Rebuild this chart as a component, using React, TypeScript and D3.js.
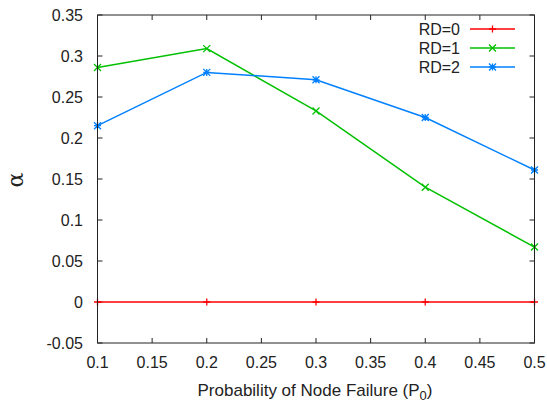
import React from "react";
import * as d3 from "d3";

const xValues = [0.1, 0.2, 0.3, 0.4, 0.5];
const rd0 = [0, 0, 0, 0, 0];
const rd1 = [0.286, 0.309, 0.233, 0.14, 0.067];
const rd2 = [0.215, 0.28, 0.271, 0.225, 0.161];
const seriesNames = ["RD=0", "RD=1", "RD=2"];
const seriesColors = ["#ff0000", "#00c000", "#0080ff"];
const xTicks = [0.1, 0.15, 0.2, 0.25, 0.3, 0.35, 0.4, 0.45, 0.5];
const yTicks = [-0.05, 0, 0.05, 0.1, 0.15, 0.2, 0.25, 0.3, 0.35];

const W = 547, H = 403;
const L = 97.5, R = 534.5, T = 15, B = 343;

function Marker({ type, x, y, color }: { type: number; x: number; y: number; color: string }) {
  const s = 3.5;
  if (type === 0) {
    return <path d={`M${x - s},${y}H${x + s}M${x},${y - s}V${y + s}`} stroke={color} strokeWidth={1.3} />;
  }
  if (type === 1) {
    return <path d={`M${x - s},${y - s}L${x + s},${y + s}M${x - s},${y + s}L${x + s},${y - s}`} stroke={color} strokeWidth={1.3} />;
  }
  return (
    <path
      d={`M${x - s},${y}H${x + s}M${x},${y - s}V${y + s}M${x - s},${y - s}L${x + s},${y + s}M${x - s},${y + s}L${x + s},${y - s}`}
      stroke={color}
      strokeWidth={1.3}
    />
  );
}

export default function App() {
  const x = d3.scaleLinear().domain([0.1, 0.5]).range([L, R]);
  const y = d3.scaleLinear().domain([-0.05, 0.35]).range([B, T]);
  const data = [rd0, rd1, rd2];
  const line = d3
    .line<number>()
    .x((_, i) => x(xValues[i]))
    .y((d) => y(d));
  const font = "'Liberation Sans', Arial, sans-serif";
  const fmt = (v: number) => (Math.abs(v) < 1e-9 ? "0" : String(+v.toFixed(2)));
  const legendY = [29, 48, 67];
  return (
    <svg width={W} height={H} style={{ position: "absolute", left: 0, top: 0, background: "#fff" }} fontFamily={font}>
      <rect width={W} height={H} fill="#fff" />
      {xTicks.map((t) => (
        <g key={"x" + t}>
          <line x1={x(t)} x2={x(t)} y1={B} y2={B - 5} stroke="#222" />
          <line x1={x(t)} x2={x(t)} y1={T} y2={T + 5} stroke="#222" />
          <text x={x(t)} y={368} fontSize={16} textAnchor="middle" fill="#222">
            {fmt(t)}
          </text>
        </g>
      ))}
      {yTicks.map((t) => (
        <g key={"y" + t}>
          <line x1={L} x2={L + 5} y1={y(t)} y2={y(t)} stroke="#222" />
          <line x1={R} x2={R - 5} y1={y(t)} y2={y(t)} stroke="#222" />
          <text x={83} y={y(t) + 5.5} fontSize={16} textAnchor="end" fill="#222">
            {fmt(t)}
          </text>
        </g>
      ))}
      {data.map((d, si) => (
        <g key={si}>
          <path d={line(d) || ""} fill="none" stroke={seriesColors[si]} strokeWidth={1.5} />
          {d.map((v, i) => (
            <Marker key={i} type={si} x={x(xValues[i])} y={y(v)} color={seriesColors[si]} />
          ))}
        </g>
      ))}
      {seriesNames.map((n, si) => (
        <g key={n}>
          <text x={460} y={legendY[si] + 5.5} fontSize={16} textAnchor="end" fill="#222">
            {n}
          </text>
          <line x1={470} x2={515} y1={legendY[si]} y2={legendY[si]} stroke={seriesColors[si]} strokeWidth={1.5} />
          <Marker type={si} x={492.5} y={legendY[si]} color={seriesColors[si]} />
        </g>
      ))}
      <rect x={L} y={T} width={R - L} height={B - T} fill="none" stroke="#222" strokeWidth={1} />
      <text x={315} y={396} fontSize={17} textAnchor="middle" fill="#222">
        Probability of Node Failure (P
        <tspan fontSize={13} dy={4}>0</tspan>
        <tspan dy={-4}>)</tspan>
      </text>
      <text
        x={0}
        y={0}
        transform="translate(23,180) rotate(-90)"
        fontSize={22}
        textAnchor="middle"
        fill="#222"
        fontFamily="'DejaVu Serif', serif"
      >
        α
      </text>
    </svg>
  );
}
